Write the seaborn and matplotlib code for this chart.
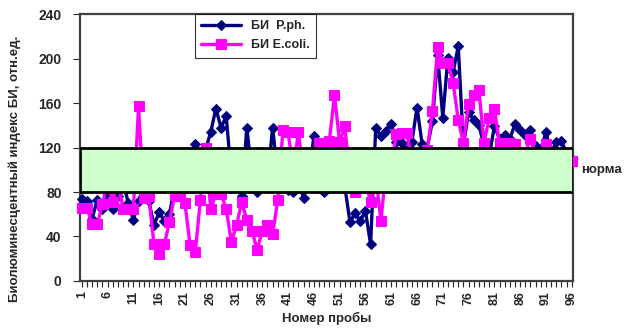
import matplotlib
matplotlib.use("Agg")
import matplotlib.pyplot as plt
import seaborn as sns
import pandas as pd
import numpy as np

# Sample numbers and bioluminescence indices for the two test strains
samples = list(range(1, 97))

bi_pph = [74, 72, 56, 73, 65, 76, 65, 76, 90, 70,
          55, 72, 85, 72, 50, 62, 54, 60, 85, 95,
          100, 110, 123, 110, 118, 134, 155, 138, 148, 95,
          85, 76, 138, 95, 80, 100, 90, 138, 95, 85,
          82, 80, 90, 75, 95, 130, 110, 80, 100, 110,
          95, 85, 53, 61, 54, 63, 33, 138, 130, 135,
          141, 125, 124, 118, 125, 156, 123, 120, 144, 203,
          147, 201, 188, 211, 122, 152, 145, 140, 122, 112,
          139, 128, 131, 128, 141, 136, 131, 136, 121, 118,
          134, 115, 125, 126, 115, 110]

bi_ecoli = [66, 66, 51, 51, 69, 90, 71, 90, 65, 65,
            65, 157, 75, 76, 33, 24, 33, 53, 77, 76,
            70, 32, 26, 73, 120, 65, 78, 78, 65, 35,
            50, 71, 55, 45, 28, 45, 50, 42, 73, 136,
            134, 100, 134, 95, 100, 110, 124, 124, 126, 167,
            125, 139, 95, 80, 100, 90, 71, 95, 54, 100,
            105, 132, 133, 133, 110, 115, 100, 118, 153, 210,
            196, 196, 178, 145, 124, 159, 167, 172, 124, 147,
            155, 124, 124, 124, 123, 110, 115, 128, 115, 110,
            123, 110, 115, 110, 112, 108]

series_names = ["БИ  P.ph.", "БИ E.coli."]
norm_low, norm_high = 80, 120
y_ticks = [0, 40, 80, 120, 160, 200, 240]
x_tick_labels = list(range(1, 97, 5))

df = pd.DataFrame({"sample": samples, "pph": bi_pph, "ecoli": bi_ecoli})

sns.set_style("white")
plt.rcParams["font.family"] = ["Liberation Sans", "DejaVu Sans"]
plt.rcParams["font.weight"] = "bold"

fig = plt.figure(figsize=(6.28, 3.29), dpi=100)
ax = fig.add_axes([0.127, 0.146, 0.785, 0.811])

sns.lineplot(data=df, x="sample", y="pph", ax=ax, color="#000080",
             linewidth=2.4, marker="D", markersize=5.5, markeredgecolor="#000080",
             label=series_names[0], zorder=3, clip_on=False)
sns.lineplot(data=df, x="sample", y="ecoli", ax=ax, color="#FF00FF",
             linewidth=2.4, marker="s", markersize=7, markeredgecolor="#FF00FF",
             label=series_names[1], zorder=4, clip_on=False)

# Normal range band, drawn over the series
ax.axhspan(norm_low, norm_high, facecolor="#CCFFCC", edgecolor="black",
           linewidth=2, zorder=5)
ax.text(1.018, 100 / 240, "норма", transform=ax.transAxes,
        fontsize=9.5, fontweight="bold", va="center", ha="left")

ax.set_xlim(0.6, 96.2)
ax.set_ylim(0, 240)
ax.set_yticks(y_ticks)
ax.set_xticks(x_tick_labels)
ax.set_xticklabels([str(v) for v in x_tick_labels], rotation=90,
                   fontsize=9, fontweight="bold")
ax.set_xticks(samples, minor=True)
ax.set_yticklabels([str(v) for v in y_ticks], fontsize=10, fontweight="bold")
ax.tick_params(axis="x", which="both", direction="out", length=4, width=0.8,
               bottom=True, pad=3)
ax.tick_params(axis="y", direction="out", length=5, width=0.8, left=True, pad=8)

ax.set_xlabel("Номер пробы", fontsize=9.5, fontweight="bold", labelpad=5)
ax.set_ylabel("Биолюминесцентный индекс БИ, отн.ед.", fontsize=9.5,
              fontweight="bold", labelpad=7)
ax.yaxis.set_label_coords(-0.12, 0.42)

for side in ["left", "right", "top", "bottom"]:
    ax.spines[side].set_color("#404040")
    ax.spines[side].set_linewidth(1.6)
    ax.spines[side].set_visible(True)

leg = ax.legend(loc="upper left", bbox_to_anchor=(0.233, 1.0), borderaxespad=0,
                frameon=True, fancybox=False, edgecolor="black", fontsize=9,
                handlelength=3.2, labelspacing=0.55, borderpad=0.5)
leg.get_frame().set_linewidth(0.8)
for t in leg.get_texts():
    t.set_fontweight("bold")
leg.set_zorder(10)

fig.savefig("out.png", dpi=100)
